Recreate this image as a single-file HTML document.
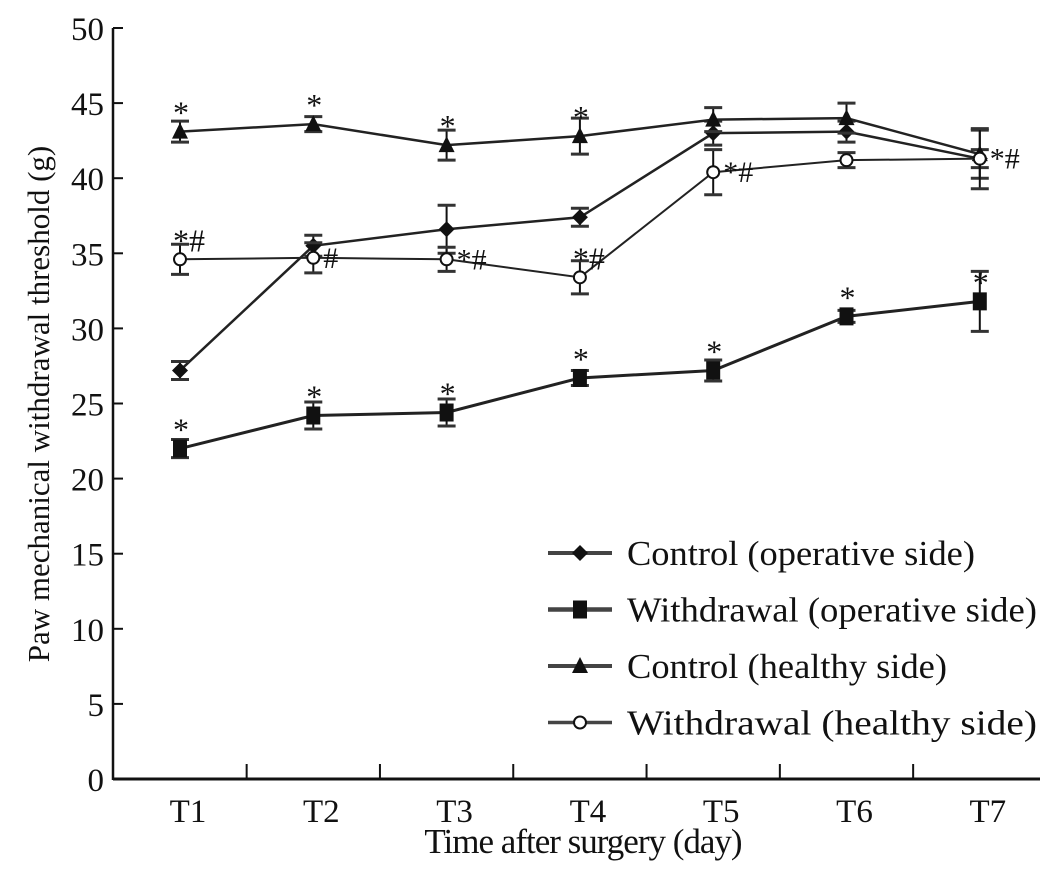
<!DOCTYPE html>
<html><head><meta charset="utf-8"><style>
body{margin:0;background:#fff}
svg text{font-family:"Liberation Serif",serif;fill:#111}
</style></head><body>
<svg id="chart" width="1063" height="881" viewBox="0 0 1063 881" xmlns="http://www.w3.org/2000/svg"></svg>
<script>
const categories=["T1","T2","T3","T4","T5","T6","T7"];
const yTicks=[0,5,10,15,20,25,30,35,40,45,50];
const ctrlOp=[27.2,35.5,36.6,37.4,43.0,43.1,41.3];
const ctrlOpErr=[0.6,0.7,1.6,0.6,0.8,0.7,0.6];
const wdOp=[22.0,24.2,24.4,26.7,27.2,30.8,31.8];
const wdOpErr=[0.6,0.9,0.9,0.5,0.7,0.4,2.0];
const ctrlH=[43.1,43.6,42.2,42.8,43.9,44.0,41.6];
const ctrlHErr=[0.7,0.5,1.0,1.2,0.8,1.0,1.6];
const wdH=[34.6,34.7,34.6,33.4,40.4,41.2,41.3];
const wdHErr=[1.0,1.0,0.8,1.1,1.5,0.5,2.0];
const annotations=[
 ["wdOp",0,"*"],["wdOp",1,"*"],["wdOp",2,"*"],["wdOp",3,"*"],["wdOp",4,"*"],["wdOp",5,"*"],["wdOp",6,"*"],
 ["ctrlH",0,"*"],["ctrlH",1,"*"],["ctrlH",2,"*"],["ctrlH",3,"*"],
 ["wdH",0,"*#"],["wdH",3,"*#"]];
const NS="http://www.w3.org/2000/svg";
const svg=document.getElementById('chart');
const X0=113,X1=1040,Y0=779,Y50=28;
const xs=i=>180+i*133.3;
const ys=v=>Y0-(v/50)*(Y0-Y50);
function el(t,a,p){const e=document.createElementNS(NS,t);for(const k in a)e.setAttribute(k,a[k]);(p||svg).appendChild(e);return e;}
let ax=el('line',{x1:X0,y1:Y0,x2:X1,y2:Y0,stroke:'#111','stroke-width':3});


let ay=el('line',{x1:X0,y1:Y0+1,x2:X0,y2:Y50,stroke:'#111','stroke-width':2.5});


yTicks.forEach(v=>{
 const t=el('line',{x1:X0,y1:ys(v),x2:X0+10,y2:ys(v),stroke:'#111','stroke-width':2});
 
 
 const l=el('text',{x:104,y:ys(v)+12,'text-anchor':'end','font-size':33});
 l.textContent=v;
 
 
});
categories.forEach((c,i)=>{
 if(i<categories.length-1){const t=el('line',{x1:(xs(i)+xs(i+1))/2,y1:Y0,x2:(xs(i)+xs(i+1))/2,y2:Y0-15,stroke:'#111','stroke-width':2});
 
 }
 const l=el('text',{x:xs(i)+8,y:Y0+43,'text-anchor':'middle','font-size':33});
 l.textContent=c;
 
 
});
const xt=el('text',{x:583,y:853,'text-anchor':'middle','font-size':35,'letter-spacing':'-1'});
xt.textContent='Time after surgery (day)';


const yt=el('text',{x:0,y:0,'text-anchor':'middle','font-size':31,transform:'translate(49,404) rotate(-90)'});
yt.textContent='Paw mechanical withdrawal threshold (g)';


function marker(type,x,y,g){
 if(type==='diamond')el('path',{d:`M${x} ${y-8}L${x+8} ${y}L${x} ${y+8}L${x-8} ${y}Z`,fill:'#111'},g);
 else if(type==='square')el('rect',{x:x-7,y:y-9,width:14,height:18,fill:'#111'},g);
 else if(type==='triangle')el('path',{d:`M${x} ${y-9}L${x+8} ${y+7}L${x-8} ${y+7}Z`,fill:'#111'},g);
 else el('circle',{cx:x,cy:y,r:6,fill:'#fff',stroke:'#111','stroke-width':2},g);
}
const series=[
 {name:'ctrl-op',vals:ctrlOp,err:ctrlOpErr,m:'diamond',label:'Control (operative side)',sw:2.5},
 {name:'wd-op',vals:wdOp,err:wdOpErr,m:'square',label:'Withdrawal (operative side)',sw:3},
 {name:'ctrl-h',vals:ctrlH,err:ctrlHErr,m:'triangle',label:'Control (healthy side)',sw:2.5},
 {name:'wd-h',vals:wdH,err:wdHErr,m:'circle',label:'Withdrawal (healthy side)',sw:2}];
const byName={ctrlOp,wdOp,ctrlH,wdH};
series.forEach((s,si)=>{
 const g=el('g',{});
 
 
 const p=el('polyline',{points:s.vals.map((v,i)=>xs(i)+','+ys(v)).join(' '),fill:'none',stroke:'#222','stroke-width':s.sw},g);
 
 
 s.vals.forEach((v,i)=>{
  const x=xs(i),e=s.err[i];
  el('line',{x1:x,y1:ys(v+e),x2:x,y2:ys(v-e),stroke:'#111','stroke-width':2},g);
  el('line',{x1:x-9,y1:ys(v+e),x2:x+9,y2:ys(v+e),stroke:'#333','stroke-width':3},g);
  el('line',{x1:x-9,y1:ys(v-e),x2:x+9,y2:ys(v-e),stroke:'#333','stroke-width':3},g);
  marker(s.m,x,ys(v),g);
 });
 const ly=553+si*56.5;
 const lg=el('g',{});
 
 
 el('line',{x1:548,y1:ly,x2:612,y2:ly,stroke:'#444','stroke-width':s.sw+1.5},lg);
 marker(s.m,580,ly,lg);
 const t=el('text',{x:627,y:ly+12,'font-size':35,'textLength':s.label.length>24?410:(s.label.length>22?348:320),'lengthAdjust':'spacingAndGlyphs'},lg);t.textContent=s.label;
});
annotations.forEach(a=>{
 const v=byName[a[0]][a[1]];
 const t=el('text',{x:xs(a[1])-7,y:ys(v)-8,'font-size':32});
 t.textContent=a[2];
 
 
});
[[1,wdH[1],'#'],[2,wdH[2],'*#'],[4,wdH[4],'*#'],[6,wdH[6],'*#']].forEach(a=>{
 const t=el('text',{x:xs(a[0])+10,y:ys(a[1])+10,'font-size':30});
 t.textContent=a[2];
 
 
});
</script>
</body></html>
